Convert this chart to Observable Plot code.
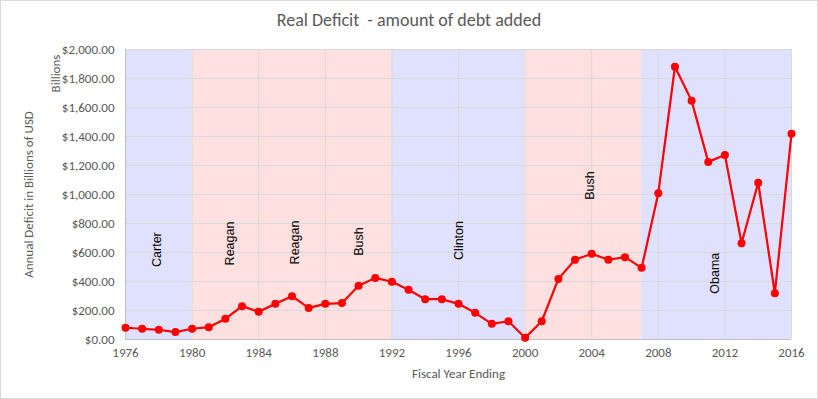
<!DOCTYPE html>
<html>
<head>
<meta charset="utf-8">
<script src="https://cdn.jsdelivr.net/npm/d3@7"></script>
<script src="https://cdn.jsdelivr.net/npm/@observablehq/plot@0.6"></script>
<style>
  html, body { margin: 0; padding: 0; background: #fff; }
  #wrap { position: relative; width: 818px; height: 399px; overflow: hidden; }
  #frame { position: absolute; left: 0; top: 0; width: 818px; height: 399px; box-sizing: border-box; border: 1px solid #d9d9d9; pointer-events: none; }
  #title { height: 38px; line-height: 40px; text-align: center; font-family: "Carlito", "Liberation Sans Narrow", "Open Sans", sans-serif; font-size: 18px; color: #595959; }
</style>
</head>
<body>
<div id="wrap">
  <div id="title">Real Deficit&nbsp; - amount of debt added</div>
  <div id="chart"></div>
  <div id="frame"></div>
</div>
<script>
const years = [1976,1977,1978,1979,1980,1981,1982,1983,1984,1985,1986,1987,1988,1989,1990,1991,1992,1993,1994,1995,1996,1997,1998,1999,2000,2001,2002,2003,2004,2005,2006,2007,2008,2009,2010,2011,2012,2013,2014,2015,2016];
const deficit = [81,74,67,51,74,85,143,230,191,246,299,218,246,251,370,425,398,343,278,278,246,184,108,126,12,126,418,550,591,550,568,494,1009,1881,1646,1225,1273,664,1081,319,1419];

const regionStart = [1976,1980,1992,2000,2007];
const regionEnd   = [1980,1992,2000,2007,2016];
const regionParty = ["D","R","D","R","D"];

const presNames = ["Carter","Reagan","Reagan","Bush","Clinton","Bush","Obama"];
const presYear  = [1977.9,1982.25,1986.2,1990,1996,2003.9,2011.4];
const presValue = [620,662,669,676,683,1062,457];

const xTicks = [1976,1980,1984,1988,1992,1996,2000,2004,2008,2012,2016];
const yTicks = [0,200,400,600,800,1000,1200,1400,1600,1800,2000];

const data = years.map((y,i) => ({year: y, value: deficit[i]}));
const regions = regionStart.map((s,i) => ({start: s, end: regionEnd[i], party: regionParty[i]}));
const labels = presNames.map((n,i) => ({name: n, year: presYear[i], value: presValue[i]}));

const axisFont = "Carlito, 'Liberation Sans Narrow', 'Open Sans', sans-serif";
const grey = "#595959";

const chart = Plot.plot({
  width: 818,
  height: 361,
  marginLeft: 125,
  marginRight: 27,
  marginTop: 11,
  marginBottom: 60,
  style: {fontFamily: axisFont, fontSize: "13px", color: grey, background: "transparent", overflow: "visible"},
  x: {domain: [1976, 2016], label: null},
  y: {domain: [0, 2000], label: null},
  color: {domain: ["D","R"], range: ["#e0e0ff", "#ffe0e0"]},
  marks: [
    Plot.rect(regions, {x1: "start", x2: "end", y1: 0, y2: 2000, fill: "party"}),
    Plot.gridX(xTicks, {stroke: "#d9d9d9", strokeOpacity: 1}),
    Plot.gridY(yTicks, {stroke: "#d9d9d9", strokeOpacity: 1}),
    Plot.ruleX([1976], {stroke: "#bfbfbf"}),
    Plot.ruleY([0], {stroke: "#bfbfbf"}),
    Plot.axisX({ticks: xTicks, tickSize: 0, tickPadding: 8, tickFormat: d => String(d), fill: grey, fontSize: 13, label: null}),
    Plot.axisY({ticks: yTicks, tickSize: 0, tickPadding: 11, tickFormat: d3.format("$,.2f"), fill: grey, fontSize: 13, label: null}),
    Plot.line(data, {x: "year", y: "value", stroke: "#ff0000", strokeWidth: 2.2}),
    Plot.dot(data, {x: "year", y: "value", r: 4, fill: "#ff0000"}),
    Plot.text(labels, {x: "year", y: "value", text: "name", rotate: -90, fill: "#000", fontSize: 12.5, fontFamily: "'Liberation Sans', Arial, sans-serif"}),
    Plot.text(["Annual Deficit in Billions of USD"], {frameAnchor: "left", textAnchor: "middle", lineAnchor: "middle", dx: -97, rotate: -90, fill: grey, fontSize: 13}),
    Plot.text(["Billions"], {frameAnchor: "top-left", textAnchor: "middle", lineAnchor: "middle", dx: -70, dy: 24, rotate: -90, fill: grey, fontSize: 13}),
    Plot.text(["Fiscal Year Ending"], {frameAnchor: "bottom", dy: 38, fill: grey, fontSize: 13})
  ]
});
document.getElementById("chart").appendChild(chart);
</script>
</body>
</html>
